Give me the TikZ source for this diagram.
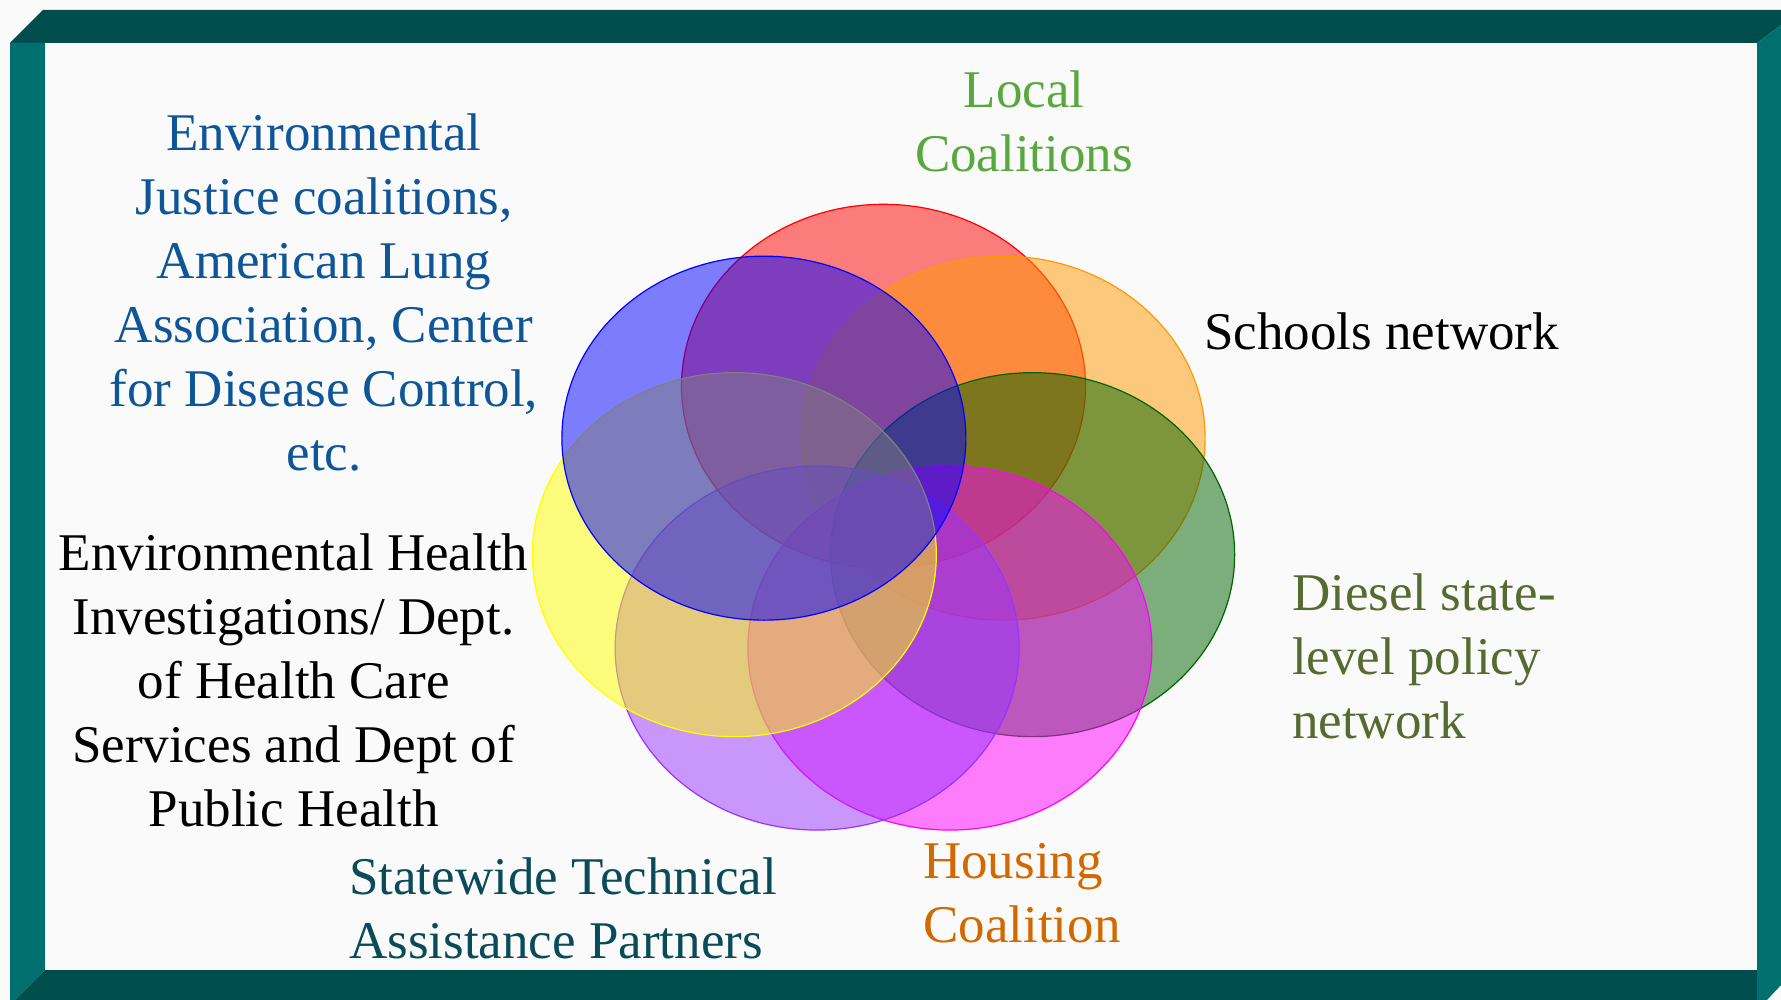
\documentclass[tikz,border=0pt]{standalone}
\usepackage{fontspec}
\setmainfont{Liberation Serif}
\usepackage{xcolor}
\definecolor{framedark}{RGB}{0,77,77}
\definecolor{framelight}{RGB}{0,112,110}
\definecolor{ejblue}{RGB}{14,86,151}
\definecolor{localgreen}{RGB}{88,168,62}
\definecolor{housingorange}{RGB}{210,105,0}
\definecolor{statewideteal}{RGB}{10,75,90}
\definecolor{dieselolive}{RGB}{85,107,47}
\definecolor{petalred}{RGB}{255,0,0}
\definecolor{petalorange}{RGB}{255,153,0}
\definecolor{petalgreen}{RGB}{0,100,0}
\definecolor{petalmagenta}{RGB}{255,0,255}
\definecolor{petalpurple}{RGB}{153,51,255}
\definecolor{petalyellow}{RGB}{255,255,0}
\definecolor{petalblue}{RGB}{0,0,255}

\begin{document}
\begin{tikzpicture}[x=1pt,y=-1pt,
	lbl/.style={font=\fontsize{53}{64}\selectfont,inner sep=0pt},
	petal/.style={fill=#1,fill opacity=0.5,draw=#1,line width=1.2pt}]
	\useasboundingbox (0,0) rectangle (1781,1000);
	\fill[black!2] (0,0) rectangle (1781,1000);
	\fill[framedark] (43,10)--(1781,10)--(1781,25)--(1757,43)--(10,43)--cycle;
	\fill[framelight] (10,43)--(45,43)--(45,970)--(15,1000)--(10,1000)--cycle;
	\fill[framedark] (45,970)--(1757,970)--(1757,1000)--(15,1000)--cycle;
	\fill[framelight] (1757,43)--(1781,25)--(1781,985)--(1767,1000)--(1757,1000)--cycle;
	\foreach \ang/\col in {90/petalred,38.57/petalorange,-12.86/petalgreen,-64.29/petalmagenta,-115.71/petalpurple,-167.14/petalyellow,141.43/petalblue}
		\draw[petal=\col] ({883.5+153*cos(\ang)},{524-137.7*sin(\ang)}) ellipse [x radius=202pt,y radius=182pt];
	\node[lbl,text=ejblue,align=center,anchor=base] (ejc) at (324,470) {Environmental\\Justice coalitions,\\American Lung\\Association, Center\\for Disease Control,\\etc.};
	\node[lbl,align=center,anchor=base] (ehi) at (293.6,826) {Environmental Health\\Investigations/ Dept.\\of Health Care\\Services and Dept of\\Public Health};
	\node[lbl,text=statewideteal,align=left,anchor=base west] (stap) at (349,958) {Statewide Technical\\Assistance Partners};
	\node[lbl,text=housingorange,align=left,anchor=base west] (hc) at (923,942) {Housing\\Coalition};
	\node[lbl,text=localgreen,align=center,anchor=base] (lc) at (1024,172) {Local\\Coalitions};
	\node[lbl,anchor=base west] (sn) at (1204,350) {Schools network};
	\node[lbl,text=dieselolive,align=left,anchor=base west] (dsp) at (1292,738) {Diesel state-\\level policy\\network};
\end{tikzpicture}
\end{document}
